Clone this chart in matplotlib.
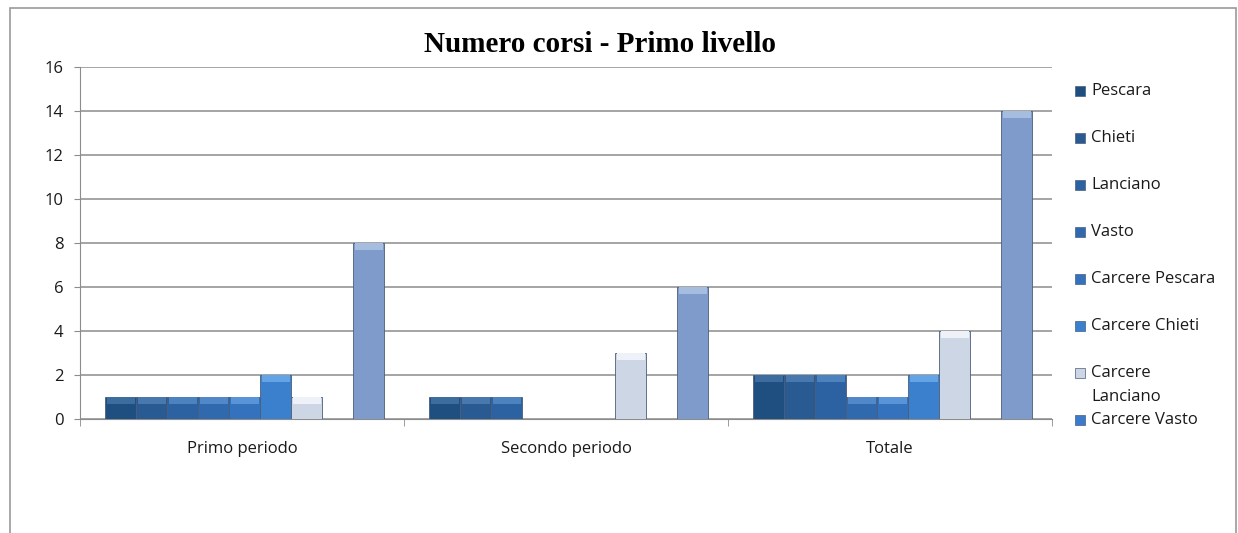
import numpy as np
import matplotlib
matplotlib.use("Agg")
import matplotlib.pyplot as plt
from matplotlib.patches import Rectangle

# categorie e serie
categorie = ["Primo periodo", "Secondo periodo", "Totale"]
serie = ["Pescara", "Chieti", "Lanciano", "Vasto", "Carcere Pescara",
         "Carcere Chieti", "Carcere\nLanciano", "Carcere Vasto", "Totale"]
pescara = [1, 1, 2]
chieti = [1, 1, 2]
lanciano = [1, 1, 2]
vasto = [1, 0, 1]
carcere_pescara = [1, 0, 1]
carcere_chieti = [2, 0, 2]
carcere_lanciano = [1, 3, 4]
carcere_vasto = [0, 0, 0]
totale = [8, 6, 14]
valori = [pescara, chieti, lanciano, vasto, carcere_pescara,
          carcere_chieti, carcere_lanciano, carcere_vasto, totale]

colori = ["#1F4E80", "#295A92", "#2C62A1", "#3069AE", "#3572BD",
          "#3B80CC", "#CDD6E5", "#3C7ACB", "#7F9BCB"]
colori_cima = ["#3D6C9E", "#4878AE", "#4C82BE", "#5088CA", "#5A94D8",
               "#63A3E6", "#EEF2F8", "#63A0E4", "#A6BDE0"]

W, H = 1238, 533
fig = plt.figure(figsize=(W / 100, H / 100), dpi=100)
ax = fig.add_axes([80 / W, 1 - 419 / H, 972 / W, 352 / H])

# cornice del grafico
fig.patches.append(Rectangle((10 / W, -0.2), 1226 / W, 1.2 - 8 / H,
                             transform=fig.transFigure, fill=False,
                             edgecolor="#9a9a9a", linewidth=1.2))

w = 0.0957
x = np.arange(len(categorie))
for i, (vals, col, cima) in enumerate(zip(valori, colori, colori_cima)):
    pos = x - 0.5 + 0.078 + w * (i + 0.5)
    ax.bar(pos, vals, width=w, color=col, edgecolor="#4a5d7a",
           linewidth=0.6, zorder=3)
    # effetto smussato in cima alla barra
    v = np.array(vals, dtype=float)
    h = np.where(v > 0, 0.3, 0)
    ax.bar(pos, h, bottom=v - h, width=w * 0.9, color=cima,
           linewidth=0, zorder=4)

ax.set_xlim(-0.5, len(categorie) - 0.5)
ax.set_ylim(0, 16)
ax.set_yticks(np.arange(0, 17, 2))
ax.set_xticks(np.arange(-0.5, len(categorie)), minor=True)
ax.set_xticks(x)
ax.set_xticklabels(categorie, fontsize=12, family="Open Sans", color="#1a1a1a")
ax.tick_params(axis="x", which="major", length=0, pad=16)
ax.tick_params(axis="x", which="minor", length=5, color="#8c8c8c")
ax.tick_params(axis="y", length=4, color="#8c8c8c", labelsize=12,
               labelcolor="#1a1a1a", pad=8)
for t in ax.get_yticklabels():
    t.set_family("Open Sans")
ax.grid(axis="y", color="#8c8c8c", linewidth=1.1, zorder=0)
for s in ["top", "right"]:
    ax.spines[s].set_visible(False)
ax.spines["left"].set_color("#8c8c8c")
ax.spines["bottom"].set_color("#8c8c8c")

fig.text(600 / W, 1 - 44 / H, "Numero corsi - Primo livello", fontsize=21,
         fontweight="bold", family="Liberation Serif", ha="center", va="center")

# legenda (la serie "Totale" non vi compare); l'etichetta su due righe
# scende sotto il proprio posto come nell'originale
y0, passo = 91, 47
for i, (nome, col) in enumerate(zip(serie[:8], colori[:8])):
    yc = y0 + i * passo
    fig.patches.append(Rectangle((1075 / W, 1 - (yc + 5) / H), 10 / W, 10 / H,
                                 transform=fig.transFigure, facecolor=col,
                                 edgecolor="#4a5d7a", linewidth=0.5))
    righe = nome.split("\n")
    for k, r in enumerate(righe):
        fig.text(1091 / W, 1 - (yc + 24 * k) / H, r, fontsize=12,
                 family="Open Sans", ha="left", va="center", color="#1a1a1a")

fig.savefig("out.png", dpi=100)
